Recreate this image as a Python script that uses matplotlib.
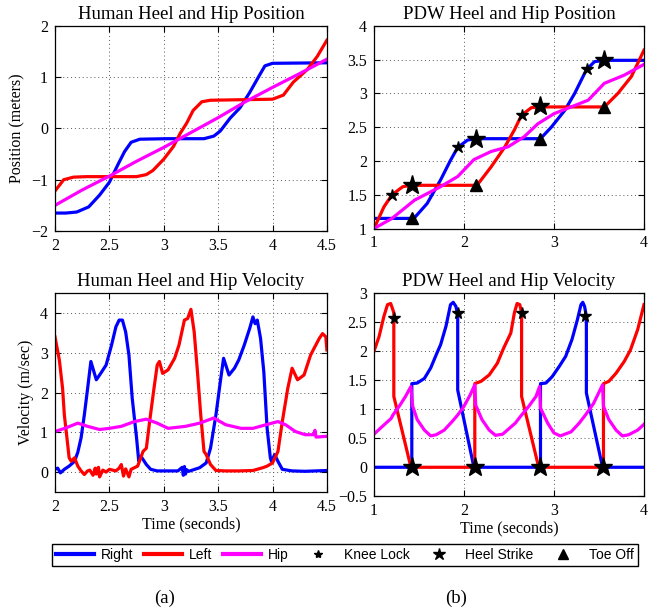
import matplotlib
matplotlib.use("Agg")
import matplotlib.pyplot as plt
from matplotlib.lines import Line2D

plt.rcParams['font.family'] = ['Liberation Serif', 'DejaVu Serif']
plt.rcParams['axes.unicode_minus'] = True

# ---- human heel / hip position (a, top) ----
hp_right_t = [2.0, 2.1, 2.2, 2.31, 2.41, 2.5, 2.58, 2.64, 2.7, 2.78, 3.03, 3.37, 3.46, 3.52, 3.61, 3.7, 3.79, 3.87, 3.93, 4.0, 4.5]
hp_right_y = [-1.65, -1.65, -1.63, -1.53, -1.3, -1.05, -0.7, -0.45, -0.27, -0.21, -0.2, -0.2, -0.15, -0.05, 0.2, 0.4, 0.7, 1.0, 1.22, 1.27, 1.28]
hp_left_t = [2.0, 2.08, 2.17, 2.29, 2.75, 2.84, 2.9, 3.0, 3.09, 3.15, 3.21, 3.27, 3.35, 3.43, 4.0, 4.1, 4.19, 4.32, 4.41, 4.5]
hp_left_y = [-1.22, -1.0, -0.95, -0.94, -0.94, -0.9, -0.82, -0.6, -0.35, -0.1, 0.1, 0.35, 0.52, 0.55, 0.57, 0.65, 0.9, 1.15, 1.4, 1.72]
hp_hip_t = [2.0, 2.25, 2.5, 2.75, 3.0, 3.25, 3.5, 3.75, 4.0, 4.25, 4.5]
hp_hip_y = [-1.5, -1.2, -0.93, -0.64, -0.37, -0.08, 0.21, 0.52, 0.8, 1.07, 1.35]

# ---- human heel / hip velocity (a, bottom) ----
hv_right_t = [2.0, 2.025, 2.05, 2.086, 2.13, 2.18, 2.21, 2.24, 2.27, 2.3, 2.33, 2.38, 2.42, 2.47, 2.52, 2.56,
              2.59, 2.62, 2.65, 2.68, 2.71, 2.75, 2.77, 2.79, 2.84, 2.88, 2.94, 3.13, 3.17, 3.18, 3.19, 3.2,
              3.21, 3.23, 3.33, 3.39, 3.43, 3.48, 3.52, 3.55, 3.6, 3.65, 3.69, 3.74, 3.79, 3.82, 3.84, 3.86,
              3.89, 3.92, 3.95, 3.98, 3.99, 4.02, 4.05, 4.09, 4.18, 4.3, 4.5]
hv_right_y = [0.07, 0.1, -0.02, 0.07, 0.15, 0.27, 0.5, 0.86, 1.44, 2.1, 2.78, 2.32, 2.48, 2.69, 3.19, 3.65,
              3.82, 3.82, 3.52, 2.94, 1.86, 0.86, 0.28, 0.4, 0.19, 0.07, 0.03, 0.03, 0.12, -0.08, 0.14, -0.05,
              0.06, 0.02, 0.11, 0.23, 0.6, 1.44, 2.27, 2.86, 2.44, 2.61, 2.82, 3.19, 3.61, 3.9, 3.73, 3.82,
              3.36, 2.52, 1.11, 0.36, 0.27, 0.44, 0.27, 0.07, 0.03, 0.02, 0.04]
hv_left_t = [2.0, 2.04, 2.07, 2.086, 2.11, 2.13, 2.15, 2.18, 2.21, 2.24, 2.27, 2.3, 2.32, 2.35, 2.37, 2.38,
             2.4, 2.41, 2.44, 2.47, 2.5, 2.56, 2.59, 2.61, 2.63, 2.65, 2.68, 2.7, 2.76, 2.81, 2.84, 2.87,
             2.91, 2.94, 2.96, 2.99, 3.04, 3.1, 3.14, 3.19, 3.22, 3.25, 3.28, 3.31, 3.34, 3.37, 3.39,
             3.43, 3.48, 3.57, 3.69, 3.82, 3.91, 3.95, 4.0, 4.05, 4.09, 4.14, 4.18, 4.23, 4.29, 4.35,
             4.38, 4.43, 4.46, 4.49, 4.5]
hv_left_y = [3.4, 2.82, 2.1, 1.44, 0.86, 0.36, 0.27, 0.36, 0.15, 0.03, -0.06, 0.03, 0.05, -0.08, 0.1, -0.05,
             0.12, -0.12, 0.05, 0.0, 0.07, 0.03, 0.1, 0.19, -0.1, 0.08, -0.12, 0.07, 0.15, 0.52, 0.6, 1.27,
             2.1, 2.69, 2.78, 2.48, 2.57, 2.86, 3.19, 3.82, 3.86, 4.09, 3.52, 2.52, 1.44, 0.52, 0.44,
             0.19, 0.04, 0.03, 0.03, 0.04, 0.11, 0.15, 0.23, 0.52, 1.27, 2.1, 2.61, 2.32, 2.44, 2.94,
             3.1, 3.36, 3.48, 3.4, 3.07]
hv_hip_t = [2.0, 2.09, 2.21, 2.3, 2.41, 2.5, 2.61, 2.73, 2.84, 2.94, 3.04, 3.2, 3.33, 3.46, 3.57, 3.71,
            3.82, 3.94, 4.05, 4.12, 4.21, 4.3, 4.38, 4.39, 4.4, 4.5]
hv_hip_y = [1.02, 1.1, 1.23, 1.15, 1.07, 1.1, 1.15, 1.27, 1.33, 1.23, 1.1, 1.15, 1.23, 1.36, 1.19, 1.1,
            1.1, 1.19, 1.27, 1.19, 1.02, 0.94, 0.94, 1.05, 0.88, 0.9]

# ---- PDW heel / hip position (b, top) ----
pp_right_t = [1.0, 1.42, 1.45, 1.59, 1.74, 1.85, 1.93, 2.04, 2.13, 2.85, 2.97, 3.12, 3.23, 3.36, 3.45, 3.56, 4.0]
pp_right_y = [1.15, 1.15, 1.16, 1.37, 1.72, 2.01, 2.2, 2.31, 2.33, 2.33, 2.5, 2.75, 3.0, 3.35, 3.47, 3.49, 3.49]
pp_left_t = [1.0, 1.11, 1.2, 1.32, 1.42, 2.13, 2.15, 2.3, 2.45, 2.56, 2.64, 2.75, 2.85, 3.56, 3.71, 3.86, 4.0]
pp_left_y = [1.0, 1.32, 1.5, 1.62, 1.64, 1.64, 1.65, 1.91, 2.2, 2.46, 2.68, 2.79, 2.8, 2.8, 3.0, 3.25, 3.64]
pp_hip_t = [1.0, 1.2, 1.45, 1.74, 1.93, 2.11, 2.3, 2.49, 2.67, 2.82, 3.0, 3.19, 3.38, 3.56, 3.78, 4.0]
pp_hip_y = [1.0, 1.15, 1.42, 1.62, 1.77, 2.02, 2.14, 2.21, 2.36, 2.55, 2.7, 2.8, 2.9, 3.15, 3.27, 3.43]
pp_knee_t = [1.2, 1.93, 2.65, 3.37]
pp_knee_y = [1.5, 2.2, 2.68, 3.36]
pp_heel_t = [1.42, 2.13, 2.85, 3.56]
pp_heel_y = [1.64, 2.33, 2.81, 3.49]
pp_toe_t = [1.42, 2.13, 2.85, 3.56]
pp_toe_y = [1.15, 1.64, 2.33, 2.8]

# ---- PDW heel / hip velocity (b, bottom) ----
pv_right_t = [1.0, 1.42, 1.42, 1.48, 1.56, 1.63, 1.7, 1.74, 1.8, 1.85, 1.88, 1.91, 1.93, 1.93, 2.11,
              2.85, 2.85, 2.91, 2.98, 3.06, 3.13, 3.2, 3.26, 3.3, 3.32, 3.34, 3.36, 3.36, 3.54, 4.0]
pv_right_y = [0.0, 0.0, 1.44, 1.45, 1.53, 1.71, 1.97, 2.11, 2.43, 2.8, 2.84, 2.77, 2.63, 1.33, 0.0,
              0.0, 1.44, 1.45, 1.56, 1.74, 1.91, 2.2, 2.54, 2.8, 2.84, 2.77, 2.6, 1.28, 0.0, 0.0]
pv_left_t = [1.0, 1.056, 1.11, 1.15, 1.185, 1.21, 1.22, 1.22, 1.41, 2.12, 2.12, 2.19, 2.28, 2.37, 2.44,
             2.52, 2.56, 2.59, 2.62, 2.64, 2.64, 2.83, 3.55, 3.55, 3.61, 3.69, 3.78, 3.85, 3.93, 4.0]
pv_left_y = [2.0, 2.25, 2.6, 2.8, 2.82, 2.71, 2.66, 1.22, 0.0, 0.0, 1.44, 1.48, 1.59, 1.79, 2.05,
             2.31, 2.66, 2.82, 2.8, 2.66, 1.22, 0.0, 0.0, 1.44, 1.48, 1.62, 1.82, 2.02, 2.37, 2.8]
pv_hip_t = [1.0, 1.09, 1.19, 1.21, 1.28, 1.35, 1.41, 1.43, 1.48, 1.56, 1.63, 1.69, 1.78, 1.87, 1.93, 2.0,
            2.07, 2.12, 2.13, 2.2, 2.28, 2.35, 2.43, 2.57, 2.64, 2.72, 2.8, 2.84, 2.85, 2.93, 3.0, 3.07,
            3.19, 3.28, 3.35, 3.44, 3.54, 3.55, 3.61, 3.69, 3.76, 3.83, 3.93, 4.0]
pv_hip_y = [0.57, 0.7, 0.84, 0.9, 1.05, 1.22, 1.39, 1.05, 0.82, 0.64, 0.54, 0.56, 0.64, 0.79, 0.9, 1.05,
            1.25, 1.42, 1.07, 0.82, 0.64, 0.55, 0.57, 0.76, 0.9, 1.05, 1.22, 1.39, 1.02, 0.76, 0.59, 0.54,
            0.61, 0.76, 0.9, 1.1, 1.42, 1.05, 0.82, 0.64, 0.54, 0.56, 0.64, 0.74]
pv_knee_t = [1.22, 1.93, 2.64, 3.35]
pv_knee_y = [2.57, 2.65, 2.66, 2.61]
pv_heel_t = [1.42, 2.12, 2.84, 3.55]
pv_heel_y = [0.0, 0.0, 0.0, 0.0]

BLUE, RED, MAG = (0, 0, 1), (1, 0, 0), (1, 0, 1)
LW = 2.3


def style(ax):
    ax.tick_params(direction='in', which='both', top=True, right=True, labelsize=11.5, length=4, pad=5)
    ax.grid(True, color='0.35', linestyle=(0, (1, 3)), linewidth=0.7)
    for s in ax.spines.values():
        s.set_linewidth(0.9)


fig = plt.figure(figsize=(6.6, 6.16), dpi=100)
ax1 = fig.add_axes([0.0833, 0.625, 0.412, 0.333])
ax2 = fig.add_axes([0.5667, 0.629, 0.409, 0.329])
ax3 = fig.add_axes([0.0833, 0.2013, 0.412, 0.323])
ax4 = fig.add_axes([0.5667, 0.1943, 0.409, 0.330])

# (a) top
ax1.plot(hp_right_t, hp_right_y, color=BLUE, lw=LW)
ax1.plot(hp_left_t, hp_left_y, color=RED, lw=LW)
ax1.plot(hp_hip_t, hp_hip_y, color=MAG, lw=LW)
ax1.set_xlim(2, 4.5)
ax1.set_ylim(-2, 2)
ax1.set_xticks([2, 2.5, 3, 3.5, 4, 4.5])
ax1.set_xticklabels(['2', '2.5', '3', '3.5', '4', '4.5'])
ax1.set_yticks([-2, -1, 0, 1, 2])
ax1.set_title('Human Heel and Hip Position', fontsize=13.5, pad=5)
ax1.set_ylabel('Position (meters)', fontsize=11.5)
style(ax1)

# (b) top
ax2.plot(pp_right_t, pp_right_y, color=BLUE, lw=LW)
ax2.plot(pp_left_t, pp_left_y, color=RED, lw=LW)
ax2.plot(pp_hip_t, pp_hip_y, color=MAG, lw=LW)
ax2.plot(pp_knee_t, pp_knee_y, ls='none', marker='*', ms=9, color='k')
ax2.plot(pp_heel_t, pp_heel_y, ls='none', marker='*', ms=14, color='k')
ax2.plot(pp_toe_t, pp_toe_y, ls='none', marker='^', ms=9, color='k')
ax2.set_xlim(1, 4)
ax2.set_ylim(1, 4)
ax2.set_xticks([1, 2, 3, 4])
ax2.set_yticks([1, 1.5, 2, 2.5, 3, 3.5, 4])
ax2.set_yticklabels(['1', '1.5', '2', '2.5', '3', '3.5', '4'])
ax2.set_title('PDW Heel and Hip Position', fontsize=13.5, pad=5)
style(ax2)

# (a) bottom
ax3.plot(hv_right_t, hv_right_y, color=BLUE, lw=LW)
ax3.plot(hv_left_t, hv_left_y, color=RED, lw=LW)
ax3.plot(hv_hip_t, hv_hip_y, color=MAG, lw=LW)
ax3.set_xlim(2, 4.5)
ax3.set_ylim(-0.5, 4.5)
ax3.set_xticks([2, 2.5, 3, 3.5, 4, 4.5])
ax3.set_xticklabels(['2', '2.5', '3', '3.5', '4', '4.5'])
ax3.set_yticks([0, 1, 2, 3, 4])
ax3.set_title('Human Heel and Hip Velocity', fontsize=13.5, pad=5)
ax3.set_ylabel('Velocity (m/sec)', fontsize=11.5)
ax3.set_xlabel('Time (seconds)', fontsize=11.5, labelpad=1)
style(ax3)

# (b) bottom
ax4.plot(pv_right_t, pv_right_y, color=BLUE, lw=LW)
ax4.plot(pv_left_t, pv_left_y, color=RED, lw=LW)
ax4.plot(pv_hip_t, pv_hip_y, color=MAG, lw=LW)
ax4.plot(pv_knee_t, pv_knee_y, ls='none', marker='*', ms=8.5, color='k')
ax4.plot(pv_heel_t, pv_heel_y, ls='none', marker='*', ms=14, color='k')
ax4.set_xlim(1, 4)
ax4.set_ylim(-0.5, 3)
ax4.set_xticks([1, 2, 3, 4])
ax4.set_yticks([-0.5, 0, 0.5, 1, 1.5, 2, 2.5, 3])
ax4.set_yticklabels(['\u22120.5', '0', '0.5', '1', '1.5', '2', '2.5', '3'])
ax4.set_title('PDW Heel and Hip Velocity', fontsize=13.5, pad=5)
ax4.set_xlabel('Time (seconds)', fontsize=11.5, labelpad=1)
style(ax4)

handles = [
    Line2D([], [], color=BLUE, lw=3),
    Line2D([], [], color=RED, lw=3),
    Line2D([], [], color=MAG, lw=3),
    Line2D([], [], ls='none', marker='*', ms=6, color='k'),
    Line2D([], [], ls='none', marker='*', ms=9, color='k'),
    Line2D([], [], ls='none', marker='^', ms=7, color='k'),
]
labels = ['Right', 'Left', 'Hip', 'Knee Lock', 'Heel Strike', 'Toe Off']
leg = fig.legend(handles, labels, loc='lower left', ncol=6, mode='expand',
                 bbox_to_anchor=(52 / 660, 1 - 566 / 616, 586 / 660, 25 / 616),
                 prop={'family': 'Liberation Sans', 'size': 10}, fancybox=False,
                 edgecolor='k', framealpha=1, handlelength=2.7, handletextpad=0.5,
                 columnspacing=1.0, borderpad=0.3, borderaxespad=0)
leg.get_frame().set_linewidth(1.0)

fig.text(165 / 660, 1 - 598 / 616, '(a)', fontsize=13.5, ha='center', va='center')
fig.text(456 / 660, 1 - 598 / 616, '(b)', fontsize=13.5, ha='center', va='center')

fig.savefig('out.png', dpi=100)
